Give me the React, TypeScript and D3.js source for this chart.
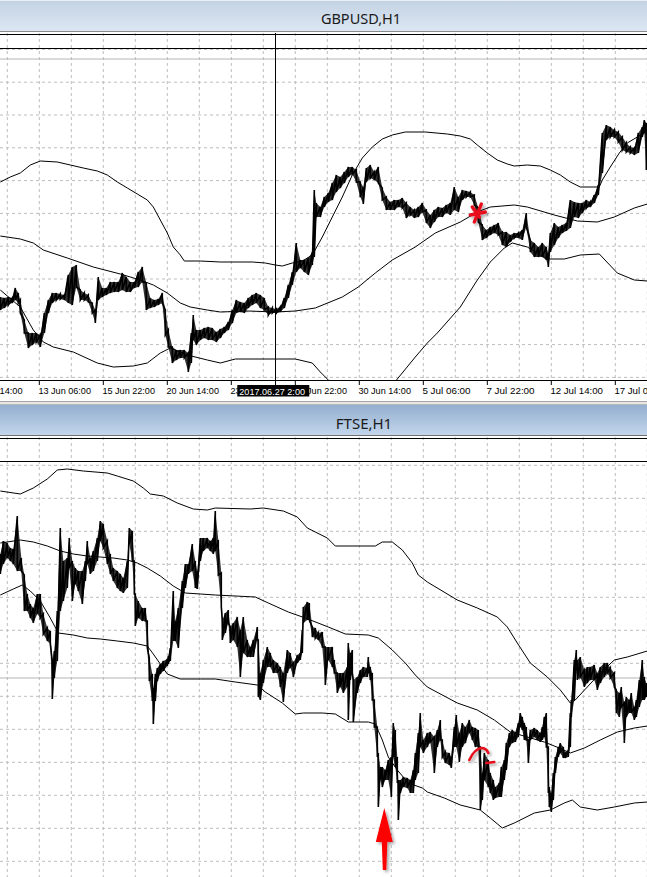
import React from 'react';
import * as d3 from 'd3';

const W = 647;
const H = 877;

const gbpTitle = 'GBPUSD,H1';
const ftseTitle = 'FTSE,H1';

// time axis (bar index = hours from the left edge of the view)
const timeTickBars = [-25, 39, 103, 167, 231, 295, 359, 423, 487, 551, 615];
const timeTickLabels = [
  '8 Jun 14:00', '13 Jun 06:00', '15 Jun 22:00', '20 Jun 14:00', '23 Jun 06:00',
  '27 Jun 22:00', '30 Jun 14:00', '5 Jul 06:00', '7 Jul 22:00', '12 Jul 14:00', '17 Jul 06:00',
];
const cursorBar = 275;
const cursorLabel = '2017.06.27 2:00';

// GBPUSD H1: [bar, high, low]
const gbpHL: [number, number, number][] = [
  [0,1.2853,1.2840],[4,1.2852,1.2842],[8,1.2853,1.2845],[12,1.2852,1.2847],[15,1.2862,1.2850],
  [18,1.2857,1.2847],[20,1.2850,1.2837],[24,1.2830,1.2817],[28,1.2817,1.2802],[32,1.2817,1.2805],
  [36,1.2817,1.2808],[40,1.2815,1.2803],[44,1.2837,1.2817],[48,1.2850,1.2837],[52,1.2857,1.2847],
  [56,1.2857,1.2850],[60,1.2856,1.2851],[64,1.2855,1.2850],[68,1.2875,1.2847],[72,1.2883,1.2845],
  [76,1.2885,1.2863],[80,1.2860,1.2850],[84,1.2857,1.2850],[88,1.2855,1.2848],[92,1.2847,1.2837],
  [95,1.2840,1.2827],[98,1.2873,1.2850],[102,1.2862,1.2853],[106,1.2862,1.2855],[110,1.2868,1.2857],
  [114,1.2868,1.2858],[118,1.2868,1.2858],[122,1.2877,1.2860],[126,1.2873,1.2858],[130,1.2868,1.2858],
  [134,1.2868,1.2862],[138,1.2878,1.2863],[142,1.2883,1.2868],[146,1.2867,1.2840],[150,1.2852,1.2842],
  [154,1.2850,1.2843],[158,1.2851,1.2845],[162,1.2857,1.2847],[165,1.2840,1.2815],[168,1.2820,1.2803],
  [172,1.2803,1.2787],[176,1.2800,1.2790],[180,1.2800,1.2792],[184,1.2800,1.2792],[188,1.2797,1.2778],
  [191,1.2817,1.2787],[193,1.2835,1.2810],[196,1.2820,1.2805],[200,1.2820,1.2810],[204,1.2822,1.2812],
  [208,1.2823,1.2810],[212,1.2822,1.2810],[216,1.2818,1.2808],[220,1.2821,1.2812],[224,1.2823,1.2817],
  [228,1.2828,1.2820],[232,1.2840,1.2827],[236,1.2850,1.2837],[240,1.2848,1.2838],[244,1.2847,1.2837],
  [248,1.2852,1.2842],[252,1.2855,1.2845],[256,1.2857,1.2847],[260,1.2855,1.2842],[264,1.2852,1.2840],
  [268,1.2843,1.2835],[272,1.2842,1.2837],[276,1.2841,1.2837],[280,1.2843,1.2838],[284,1.2852,1.2842],
  [288,1.2865,1.2852],[292,1.2878,1.2865],[296,1.2907,1.2878],[300,1.2890,1.2882],[304,1.2890,1.2878],
  [308,1.2892,1.2875],[312,1.2898,1.2885],[314,1.2960,1.2893],[316,1.2947,1.2933],[320,1.2943,1.2933],
  [324,1.2953,1.2943],[328,1.2957,1.2948],[332,1.2967,1.2950],[336,1.2975,1.2958],[340,1.2973,1.2962],
  [344,1.2978,1.2967],[348,1.2983,1.2973],[352,1.2983,1.2976],[356,1.2980,1.2968],[360,1.2968,1.2953],
  [363,1.2963,1.2946],[366,1.2982,1.2968],[370,1.2985,1.2972],[374,1.2978,1.2970],[378,1.2983,1.2967],
  [382,1.2962,1.2950],[386,1.2953,1.2940],[390,1.2948,1.2940],[394,1.2950,1.2940],[398,1.2950,1.2943],
  [402,1.2952,1.2942],[406,1.2947,1.2932],[410,1.2943,1.2935],[414,1.2940,1.2932],[418,1.2943,1.2933],
  [422,1.2947,1.2938],[426,1.2940,1.2927],[430,1.2935,1.2922],[434,1.2940,1.2928],[438,1.2943,1.2933],
  [442,1.2942,1.2933],[446,1.2945,1.2937],[450,1.2947,1.2935],[454,1.2963,1.2940],[458,1.2953,1.2938],
  [462,1.2960,1.2950],[466,1.2959,1.2953],[470,1.2958,1.2953],[474,1.2955,1.2945],[478,1.2942,1.2928],
  [482,1.2925,1.2910],[486,1.2920,1.2912],[490,1.2923,1.2915],[494,1.2925,1.2917],[498,1.2927,1.2915],
  [502,1.2918,1.2905],[506,1.2918,1.2903],[510,1.2915,1.2908],[514,1.2917,1.2912],[518,1.2917,1.2912],
  [522,1.2920,1.2910],[526,1.2937,1.2923],[530,1.2910,1.2898],[534,1.2907,1.2893],[538,1.2903,1.2893],
  [542,1.2907,1.2893],[546,1.2903,1.2890],[548,1.2897,1.2883],[550,1.2917,1.2898],[554,1.2927,1.2905],
  [558,1.2923,1.2912],[562,1.2925,1.2917],[566,1.2927,1.2919],[570,1.2950,1.2922],[574,1.2948,1.2933],
  [578,1.2947,1.2932],[582,1.2947,1.2937],[586,1.2950,1.2942],[590,1.2948,1.2943],[594,1.2955,1.2947],
  [598,1.2965,1.2955],[602,1.3017,1.2977],[606,1.3025,1.3010],[610,1.3023,1.3013],[614,1.3020,1.3013],
  [618,1.3018,1.3008],[622,1.3013,1.3000],[626,1.3007,1.2998],[630,1.3003,1.2997],[634,1.3002,1.2995],
  [638,1.3017,1.2997],[642,1.3023,1.3013],[644,1.3030,1.3017],[646,1.3027,1.2980],
];

// GBPUSD Bollinger bands: [bar, value]
const gbpUpper: [number, number][] = [
  [0,1.2968],[10,1.2973],[20,1.2977],[30,1.2985],[40,1.2989],[57,1.2988],[70,1.2985],[83,1.2982],
  [97,1.2979],[107,1.2975],[117,1.2968],[127,1.2962],[137,1.2956],[147,1.2950],[153,1.2943],[160,1.2930],
  [167,1.2917],[173,1.2903],[180,1.2895],[184,1.2889],[200,1.2889],[220,1.2888],[252,1.2888],[265,1.2887],
  [275,1.2885],[282,1.2884],[292,1.2887],[302,1.2889],[312,1.2895],[322,1.2913],[332,1.2933],[342,1.2953],
  [352,1.2975],[362,1.2992],[372,1.3003],[382,1.3011],[392,1.3015],[405,1.3018],[425,1.3018],[447,1.3016],
  [460,1.3014],[470,1.3011],[477,1.3005],[487,1.2997],[497,1.2990],[507,1.2986],[514,1.2984],[527,1.2985],
  [540,1.2984],[550,1.2980],[560,1.2975],[570,1.2968],[580,1.2963],[599,1.2963],[602,1.2970],[610,1.2983],
  [619,1.2997],[627,1.3007],[637,1.3013],[647,1.3019],
];
const gbpMiddle: [number, number][] = [
  [0,1.2914],[20,1.2911],[33,1.2907],[43,1.2900],[67,1.2892],[93,1.2883],[120,1.2876],[140,1.2870],
  [153,1.2865],[167,1.2857],[180,1.2847],[190,1.2843],[207,1.2840],[220,1.2838],[248,1.2839],[275,1.2838],
  [295,1.2839],[315,1.2842],[342,1.2853],[358,1.2863],[375,1.2877],[392,1.2890],[415,1.2903],[435,1.2917],
  [460,1.2928],[477,1.2938],[490,1.2943],[514,1.2945],[527,1.2943],[554,1.2935],[577,1.2929],[597,1.2928],
  [614,1.2933],[634,1.2942],[647,1.2946],
];
const gbpLower: [number, number][] = [
  [0,1.2860],[20,1.2843],[33,1.2820],[43,1.2808],[53,1.2803],[73,1.2798],[97,1.2787],[113,1.2783],
  [133,1.2784],[147,1.2787],[160,1.2797],[170,1.2802],[187,1.2795],[207,1.2790],[220,1.2787],[235,1.2791],
  [295,1.2791],[312,1.2787],[320,1.2778],[328,1.2770],[340,1.2755],[365,1.2745],[390,1.2762],[397,1.2771],
  [415,1.2793],[427,1.2807],[437,1.2817],[460,1.2843],[477,1.2870],[490,1.2888],[504,1.2902],[512,1.2907],
  [527,1.2903],[547,1.2891],[564,1.2891],[580,1.2895],[599,1.2896],[617,1.2877],[634,1.2870],[647,1.2869],
];

// FTSE H1: [bar, high, low]
const ftseHL: [number, number, number][] = [
  [0,7546,7526],[3,7559,7536],[7,7557,7542],[10,7552,7539],[13,7551,7536],[17,7584,7529],[21,7542,7529],
  [24,7525,7489],[27,7506,7489],[30,7496,7482],[33,7492,7477],[37,7506,7486],[40,7506,7482],[43,7486,7466],
  [47,7472,7459],[50,7469,7456],[52,7439,7401],[54,7449,7422],[57,7489,7439],[60,7572,7489],[63,7539,7499],
  [67,7542,7512],[69,7562,7532],[72,7539,7499],[75,7532,7516],[78,7529,7509],[82,7529,7496],[85,7539,7519],
  [87,7559,7536],[90,7542,7526],[93,7549,7529],[97,7562,7539],[100,7579,7559],[103,7576,7552],[107,7559,7536],
  [110,7546,7526],[113,7532,7519],[117,7529,7512],[120,7526,7509],[123,7522,7507],[127,7539,7512],[129,7572,7556],
  [132,7569,7539],[134,7539,7506],[135,7506,7474],[138,7499,7482],[142,7492,7479],[145,7492,7479],[147,7479,7452],
  [149,7442,7419],[152,7426,7399],[153,7412,7376],[155,7426,7399],[157,7432,7419],[160,7436,7426],[163,7439,7429],
  [167,7441,7434],[168,7444,7436],[170,7452,7439],[173,7509,7459],[175,7479,7459],[178,7492,7452],[182,7519,7492],
  [185,7536,7512],[188,7536,7526],[192,7556,7529],[195,7539,7512],[197,7529,7511],[200,7562,7539],[203,7562,7549],
  [207,7562,7552],[210,7559,7549],[213,7562,7546],[215,7589,7549],[218,7560,7525],[221,7527,7493],[222,7480,7460],
  [225,7487,7467],[228,7490,7477],[230,7473,7457],[233,7477,7460],[237,7483,7453],[240,7470,7423],[243,7483,7447],
  [247,7460,7443],[250,7453,7443],[253,7460,7443],[257,7473,7460],[258,7460,7403],[260,7427,7400],[263,7440,7417],
  [267,7453,7433],[270,7447,7433],[273,7440,7427],[277,7437,7427],[280,7433,7413],[283,7427,7398],[287,7450,7427],
  [290,7447,7433],[293,7437,7423],[297,7445,7437],[300,7447,7440],[302,7470,7447],[303,7493,7477],[307,7498,7480],
  [309,7497,7480],[312,7473,7463],[315,7472,7462],[318,7467,7460],[322,7468,7453],[325,7453,7415],[328,7453,7440],
  [332,7453,7433],[334,7440,7427],[337,7427,7407],[340,7427,7413],[343,7427,7407],[347,7433,7413],[348,7457,7380],
  [350,7447,7420],[352,7450,7427],[353,7420,7378],[357,7423,7407],[360,7430,7417],[363,7433,7423],[367,7432,7423],
  [368,7443,7427],[370,7433,7420],[372,7427,7400],[374,7400,7373],[377,7373,7343],[378,7347,7293],[380,7333,7320],
  [382,7333,7313],[385,7330,7320],[388,7340,7320],[391,7343,7303],[393,7377,7343],[395,7370,7333],[397,7343,7317],
  [398,7320,7280],[400,7320,7307],[403,7323,7313],[407,7322,7312],[410,7320,7307],[413,7330,7307],[415,7347,7320],
  [418,7367,7327],[420,7387,7353],[423,7360,7347],[427,7367,7353],[430,7368,7358],[434,7363,7327],[437,7370,7353],
  [440,7380,7360],[442,7360,7343],[445,7348,7337],[449,7347,7335],[451,7343,7332],[454,7373,7353],[456,7385,7353],
  [459,7367,7338],[462,7377,7353],[465,7373,7357],[469,7380,7367],[472,7373,7360],[475,7372,7353],[478,7370,7353],
  [480,7353,7290],[482,7327,7300],[484,7347,7320],[488,7340,7313],[490,7327,7307],[493,7320,7300],[495,7313,7302],
  [499,7317,7303],[501,7333,7303],[504,7340,7320],[506,7357,7330],[509,7367,7353],[512,7370,7357],[515,7368,7358],
  [518,7377,7363],[520,7387,7373],[522,7383,7370],[524,7377,7360],[526,7373,7360],[528,7360,7337],[530,7370,7360],
  [534,7372,7363],[537,7370,7360],[540,7367,7358],[542,7373,7360],[544,7383,7363],[546,7387,7353],[548,7353,7307],
  [549,7313,7293],[551,7307,7288],[553,7327,7300],[555,7343,7327],[558,7353,7343],[560,7357,7347],[563,7353,7342],
  [565,7348,7342],[568,7350,7343],[570,7387,7353],[571,7400,7383],[574,7440,7400],[576,7450,7430],[577,7440,7420],
  [580,7443,7423],[584,7430,7413],[587,7433,7417],[590,7433,7420],[594,7435,7420],[597,7427,7410],[600,7433,7417],
  [604,7437,7423],[607,7437,7427],[610,7432,7422],[614,7427,7413],[616,7410,7387],[619,7407,7383],[621,7413,7393],
  [624,7397,7357],[626,7403,7383],[629,7400,7387],[631,7407,7387],[634,7393,7380],[636,7400,7383],[639,7420,7393],
  [642,7440,7400],[644,7423,7400],[646,7417,7403],
];

const ftseUpper: [number, number][] = [
  [0,7609],[20,7606],[33,7612],[47,7621],[57,7630],[67,7631],[83,7629],[107,7627],[117,7624],[133,7619],
  [143,7612],[150,7606],[163,7604],[177,7597],[193,7591],[207,7590],[215,7592],[250,7591],[263,7592],[283,7589],
  [297,7583],[307,7572],[327,7562],[335,7554],[375,7554],[382,7558],[392,7558],[402,7550],[412,7537],[418,7525],
  [427,7518],[457,7500],[477,7492],[497,7483],[507,7473],[517,7457],[530,7437],[547,7423],[560,7410],[570,7397],
  [575,7400],[587,7413],[600,7427],[614,7440],[627,7443],[647,7449],
];
const ftseMiddle: [number, number][] = [
  [0,7557],[20,7560],[33,7558],[47,7554],[60,7549],[73,7546],[87,7544],[100,7543],[113,7542],[127,7540],
  [137,7537],[147,7532],[160,7524],[173,7514],[185,7507],[200,7506],[215,7505],[255,7503],[268,7497],[288,7488],
  [305,7482],[328,7473],[345,7466],[368,7465],[378,7462],[392,7450],[405,7437],[415,7425],[427,7413],[457,7397],
  [477,7390],[494,7380],[510,7368],[527,7363],[544,7358],[559,7352],[570,7347],[584,7352],[600,7360],[617,7368],
  [634,7372],[647,7374],
];
const ftseLower: [number, number][] = [
  [0,7505],[13,7511],[22,7515],[30,7509],[40,7499],[50,7482],[58,7467],[73,7465],[87,7462],[100,7461],
  [117,7459],[133,7457],[147,7454],[153,7446],[160,7436],[167,7426],[180,7421],[200,7421],[215,7421],[235,7418],
  [257,7415],[265,7408],[282,7397],[295,7386],[303,7387],[322,7387],[335,7386],[348,7378],[368,7378],[375,7376],
  [382,7360],[388,7343],[397,7330],[408,7317],[422,7312],[427,7308],[444,7302],[460,7295],[480,7290],[490,7282],
  [502,7272],[514,7277],[534,7287],[550,7290],[564,7297],[572,7300],[580,7293],[597,7290],[614,7293],[634,7297],
  [647,7298],
];

// horizontal reference lines drawn on the charts (price levels)
const gbpLevels = [1.3116, 1.3102];
const gbpSilverLevel = 1.3091;
const ftseLevels = [7662, 7639];
const ftseSilverLevel = 7422;

export default function App() {
  const x = d3.scaleLinear().domain([0, 647]).range([0.3, 647.3]);
  const yG = d3.scaleLinear().domain([1.3102, 1.2770]).range([48, 380]);
  const yF = d3.scaleLinear().domain([7639, 7223]).range([461, 877]);

  const gTop = 33, gBot = 380;
  const fTop = 437, fBot = H;

  const areaOf = (y: d3.ScaleLinear<number, number>) =>
    d3.area<[number, number, number]>().x(d => x(d[0])).y0(d => y(d[2])).y1(d => y(d[1]));
  const lineOf = (y: d3.ScaleLinear<number, number>) =>
    d3.line<[number, number]>().x(d => x(d[0])).y(d => y(d[1]));
  // bar-chart look: each bar drawn high→low, joined to the next bar's high
  const bars = (data: [number, number, number][], y: d3.ScaleLinear<number, number>) => {
    const pts: [number, number][] = [];
    data.forEach(d => { pts.push([x(d[0]), y(d[1])]); pts.push([x(d[0]), y(d[2])]); });
    return d3.line()(pts) || '';
  };

  const vGrid = d3.range(7, 680, 32).map(b => x(b));
  const hGridTop = d3.range(49.4, gBot, 32.8);
  const hGridBot = d3.range(465.3, fBot, 33);

  const labelFont = "'Liberation Sans', Arial, sans-serif";
  const titleFont = "'Noto Sans', 'Open Sans', sans-serif";

  return (
    <div style={{ position: 'absolute', left: 0, top: 0 }}>
      <svg width={W} height={H} viewBox={`0 0 ${W} ${H}`} style={{ display: 'block', background: '#fff' }}>
        <defs>
          <linearGradient id="tb1" x1="0" y1="0" x2="0" y2="1">
            <stop offset="0" stopColor="#c3d2e3" />
            <stop offset="1" stopColor="#dce7f3" />
          </linearGradient>
          <linearGradient id="tb2" x1="0" y1="0" x2="0" y2="1">
            <stop offset="0" stopColor="#93afcf" />
            <stop offset="1" stopColor="#c3d6eb" />
          </linearGradient>
          <clipPath id="cg"><rect x={0} y={gTop} width={W} height={gBot - gTop} /></clipPath>
          <clipPath id="cf"><rect x={0} y={fTop} width={W} height={fBot - fTop} /></clipPath>
          <filter id="sh" x="-50%" y="-50%" width="200%" height="200%">
            <feDropShadow dx="2" dy="2" stdDeviation="1.5" floodColor="#000" floodOpacity="0.35" />
          </filter>
        </defs>

        {/* GBPUSD title bar */}
        <rect x={0} y={0} width={W} height={31} fill="url(#tb1)" />
        <line x1={0} x2={W} y1={0.5} y2={0.5} stroke="#e8eef6" />
        <line x1={0} x2={W} y1={31.5} y2={31.5} stroke="#8a8a8a" />
        <text x={361} y={24} textAnchor="middle" fontFamily={titleFont} fontSize={14.5} fill="#1b1b1b">{gbpTitle}</text>

        {/* GBPUSD chart */}
        <g clipPath="url(#cg)">
          {vGrid.map((gx, i) => (
            <line key={'vg' + i} x1={gx} x2={gx} y1={gTop} y2={gBot} stroke="#bdbdbd" strokeDasharray="3,3" />
          ))}
          {hGridTop.map((gy, i) => (
            <line key={'hg' + i} x1={0} x2={W} y1={gy} y2={gy} stroke="#bdbdbd" strokeDasharray="3,3" />
          ))}
          <line x1={0} x2={W} y1={yG(gbpSilverLevel)} y2={yG(gbpSilverLevel)} stroke="#b4b4b4" />
          {gbpLevels.map((lv, i) => (
            <line key={'gl' + i} x1={0} x2={W} y1={yG(lv) + 0.5} y2={yG(lv) + 0.5} stroke="#000" />
          ))}
          <path d={lineOf(yG)(gbpUpper) || ''} fill="none" stroke="#000" strokeWidth={1} />
          <path d={lineOf(yG)(gbpMiddle) || ''} fill="none" stroke="#000" strokeWidth={1} />
          <path d={lineOf(yG)(gbpLower) || ''} fill="none" stroke="#000" strokeWidth={1} />
          <path d={areaOf(yG)(gbpHL) || ''} fill="#000" fillOpacity={0.8} stroke="none" />
          <path d={bars(gbpHL, yG)} fill="none" stroke="#000" strokeWidth={1.6} strokeLinejoin="miter" />
          <line x1={x(cursorBar) + 0.2} x2={x(cursorBar) + 0.2} y1={gTop} y2={gBot} stroke="#000" />
        </g>
        {/* red mark on GBPUSD */}
        <g filter="url(#sh)" stroke="#e8101a" strokeWidth={3.4} strokeLinecap="round" fill="none">
          <path d={`M${x(470)},${yG(1.2935)} L${x(485)},${yG(1.2938)}`} />
          <path d={`M${x(481)},${yG(1.2946)} L${x(474)},${yG(1.2928)}`} />
          <path d={`M${x(472)},${yG(1.2943)} L${x(479)},${yG(1.2933)}`} />
        </g>

        {/* time axis */}
        <line x1={0} x2={W} y1={380.5} y2={380.5} stroke="#000" />
        {timeTickBars.map((b, i) => (
          <g key={'tk' + i}>
            <line x1={x(b)} x2={x(b)} y1={380} y2={385} stroke="#000" />
            <text x={x(b) - 0.9} y={394} fontFamily={labelFont} fontSize={9.5} fill="#000"
              textLength={timeTickLabels[i].length * 4.38} lengthAdjust="spacingAndGlyphs">
              {timeTickLabels[i]}
            </text>
          </g>
        ))}
        <line x1={x(cursorBar) + 0.2} x2={x(cursorBar) + 0.2} y1={380} y2={386} stroke="#000" />
        <rect x={x(cursorBar) - 38} y={385} width={72} height={11.5} fill="#000" />
        <text x={x(cursorBar) - 36} y={394.5} fontFamily={labelFont} fontSize={9.5} fill="#fff"
          textLength={cursorLabel.length * 4.38} lengthAdjust="spacingAndGlyphs">{cursorLabel}</text>

        {/* separator */}
        <rect x={0} y={401} width={W} height={4} fill="#e6e6e6" />
        <line x1={0} x2={W} y1={401.5} y2={401.5} stroke="#a5a5a5" />
        <line x1={0} x2={W} y1={404.5} y2={404.5} stroke="#b9b9b9" />

        {/* FTSE title bar */}
        <rect x={0} y={405} width={W} height={30} fill="url(#tb2)" />
        <line x1={0} x2={W} y1={435.5} y2={435.5} stroke="#6f6f6f" />
        <text x={364} y={429} textAnchor="middle" fontFamily={titleFont} fontSize={15} fill="#1b1b1b">{ftseTitle}</text>

        {/* FTSE chart */}
        <g clipPath="url(#cf)">
          {vGrid.map((gx, i) => (
            <line key={'fvg' + i} x1={gx} x2={gx} y1={fTop} y2={fBot} stroke="#bdbdbd" strokeDasharray="3,3" />
          ))}
          {hGridBot.map((gy, i) => (
            <line key={'fhg' + i} x1={0} x2={W} y1={gy} y2={gy} stroke="#bdbdbd" strokeDasharray="3,3" />
          ))}
          <line x1={0} x2={W} y1={yF(ftseSilverLevel)} y2={yF(ftseSilverLevel)} stroke="#b4b4b4" />
          {ftseLevels.map((lv, i) => (
            <line key={'fl' + i} x1={0} x2={W} y1={yF(lv) + 0.5} y2={yF(lv) + 0.5} stroke="#000" />
          ))}
          <path d={lineOf(yF)(ftseUpper) || ''} fill="none" stroke="#000" strokeWidth={1} />
          <path d={lineOf(yF)(ftseMiddle) || ''} fill="none" stroke="#000" strokeWidth={1} />
          <path d={lineOf(yF)(ftseLower) || ''} fill="none" stroke="#000" strokeWidth={1} />
          <path d={areaOf(yF)(ftseHL) || ''} fill="#000" fillOpacity={0.8} stroke="none" />
          <path d={bars(ftseHL, yF)} fill="none" stroke="#000" strokeWidth={1.6} strokeLinejoin="miter" />
        </g>

        {/* red annotations on FTSE */}
        <g filter="url(#sh)" stroke="#e8101a" strokeWidth={2.6} strokeLinecap="round" fill="none">
          <path d={`M${x(469)},${yF(7340)} Q${x(474)},${yF(7351)} ${x(481)},${yF(7352)} Q${x(486)},${yF(7352)} ${x(488)},${yF(7347)}`} />
          <path d={`M${x(486)},${yF(7337)} L${x(494)},${yF(7338)}`} />
        </g>
        <path filter="url(#sh)" fill="#ff0000"
          d={`M${x(384)},${yF(7292)} L${x(392.5)},${yF(7258)} L${x(387)},${yF(7258)} L${x(386)},${yF(7230)} L${x(382.5)},${yF(7230)} L${x(381.5)},${yF(7258)} L${x(375.5)},${yF(7258)} Z`} />
      </svg>
    </div>
  );
}
